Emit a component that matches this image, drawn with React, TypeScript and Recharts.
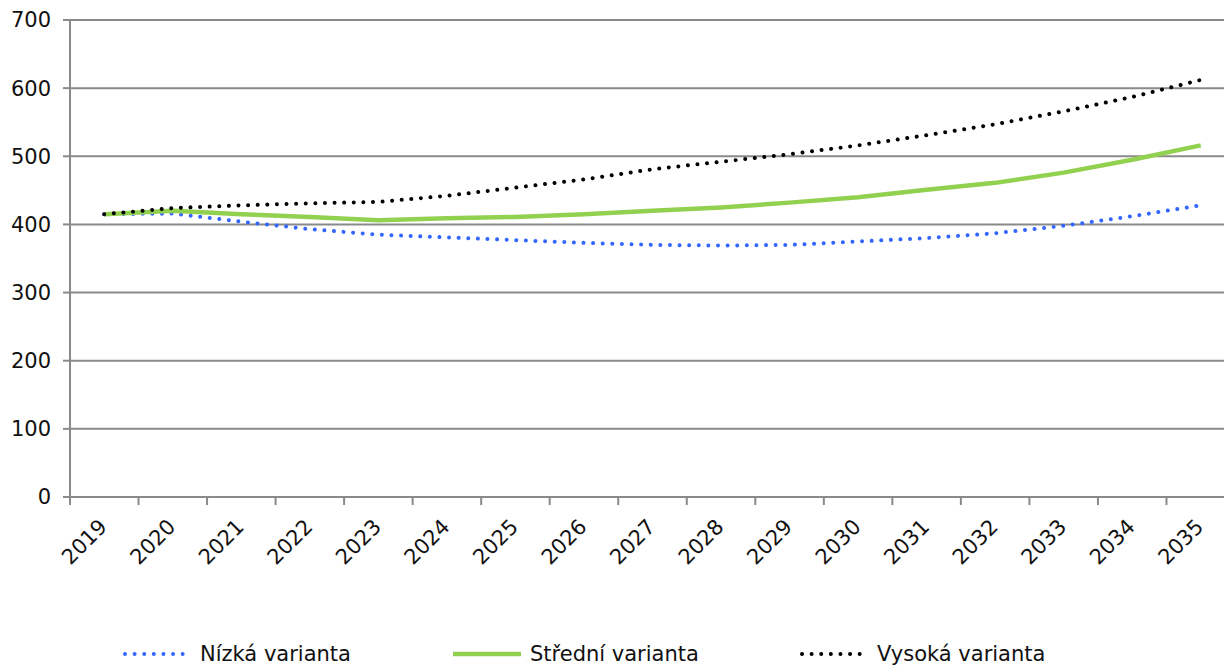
import React from "react";
import { LineChart, Line, XAxis, YAxis, CartesianGrid, Legend } from "recharts";

const years = [2019, 2020, 2021, 2022, 2023, 2024, 2025, 2026, 2027, 2028, 2029, 2030, 2031, 2032, 2033, 2034, 2035];
const nizka = [415, 416, 404, 393, 385, 381, 377, 373, 370, 369, 370, 375, 380, 387, 398, 412, 428];
const stredni = [415, 420, 415, 411, 406, 409, 411, 415, 420, 425, 432, 440, 451, 461, 476, 495, 516];
const vysoka = [415, 424, 428, 431, 433, 442, 454, 466, 481, 492, 503, 516, 531, 547, 566, 587, 612];
const yTicks = [0, 100, 200, 300, 400, 500, 600, 700];
const seriesNames = ["Nízká varianta", "Střední varianta", "Vysoká varianta"];

const data = years.map((year, i) => ({
  year,
  nizka: nizka[i],
  stredni: stredni[i],
  vysoka: vysoka[i],
}));

// Excel-style tick marks sit between the categories
const boundaries = [...years.map((y) => y - 0.5), years[years.length - 1] + 0.5];
const xTicks = [...boundaries, ...years].sort((a, b) => a - b);

const FONT = "'DejaVu Sans', Verdana, sans-serif";
const GRID = "#8a8a8a";
const BLUE = "#3366ff";
const GREEN = "#92d050";
const BLACK = "#000000";

const XTick = (props: any) => {
  const { x, y, payload } = props;
  const v = payload.value;
  if (!Number.isInteger(v)) {
    return <line x1={x} y1={y} x2={x} y2={y + 8} stroke={GRID} strokeWidth={2} />;
  }
  const tx = x + 4;
  const ty = y + 31;
  return (
    <text
      x={tx}
      y={ty}
      textAnchor="end"
      transform={`rotate(-45 ${tx} ${ty})`}
      fontSize={21}
      fontFamily={FONT}
      fill="#111"
    >
      {v}
    </text>
  );
};

const legendItems = [
  { name: seriesNames[0], color: BLUE, dotted: true, left: 123, len: 62, gap: 15 },
  { name: seriesNames[1], color: GREEN, dotted: false, left: 453, len: 68, gap: 9 },
  { name: seriesNames[2], color: BLACK, dotted: true, left: 800, len: 62, gap: 15 },
];

const renderLegend = () => (
  <div style={{ position: "relative", height: 40, fontFamily: FONT, fontSize: 21, color: "#111" }}>
    {legendItems.map((it) => (
      <div
        key={it.name}
        style={{ position: "absolute", left: it.left, top: 17, height: 24, lineHeight: "24px", display: "flex", alignItems: "center", whiteSpace: "nowrap" }}
      >
        <svg width={it.len} height={10} style={{ marginRight: it.gap }}>
          {it.dotted ? (
            <line x1={2} y1={5} x2={it.len} y2={5} stroke={it.color} strokeWidth={4} strokeDasharray="0.01 9.6" strokeLinecap="round" />
          ) : (
            <line x1={0} y1={5} x2={it.len} y2={5} stroke={it.color} strokeWidth={4.5} />
          )}
        </svg>
        <span>{it.name}</span>
      </div>
    ))}
  </div>
);

export default function App() {
  return (
    <div style={{ position: "fixed", left: 0, top: 0, width: 1224, height: 665, overflow: "hidden", background: "#fff" }}>
      <LineChart width={1240} height={665} data={data} margin={{ top: 20, right: 5, left: 0, bottom: 0 }}>
        <CartesianGrid vertical={false} stroke={GRID} strokeWidth={2} />
        <XAxis
          dataKey="year"
          type="number"
          domain={[years[0] - 0.5, years[years.length - 1] + 0.5]}
          ticks={xTicks}
          interval={0}
          allowDecimals
          tickLine={false}
          tickSize={0}
          tickMargin={0}
          axisLine={{ stroke: GRID, strokeWidth: 2 }}
          tick={<XTick />}
          height={128}
        />
        <YAxis
          domain={[0, 700]}
          ticks={yTicks}
          interval={0}
          width={70}
          tickSize={7}
          tickMargin={12}
          tickLine={{ stroke: GRID, strokeWidth: 2 }}
          axisLine={{ stroke: GRID, strokeWidth: 2 }}
          tick={{ fontSize: 21, fontFamily: FONT, fill: "#111" }}
        />
        <Legend verticalAlign="bottom" height={40} content={renderLegend} />
        <Line
          type="linear"
          dataKey="nizka"
          name={seriesNames[0]}
          stroke={BLUE}
          strokeWidth={4}
          strokeDasharray="0.01 9.6"
          strokeLinecap="round"
          dot={false}
          isAnimationActive={false}
        />
        <Line
          type="linear"
          dataKey="stredni"
          name={seriesNames[1]}
          stroke={GREEN}
          strokeWidth={4.5}
          dot={false}
          isAnimationActive={false}
        />
        <Line
          type="linear"
          dataKey="vysoka"
          name={seriesNames[2]}
          stroke={BLACK}
          strokeWidth={4}
          strokeDasharray="0.01 9.6"
          strokeLinecap="round"
          dot={false}
          isAnimationActive={false}
        />
      </LineChart>
    </div>
  );
}
